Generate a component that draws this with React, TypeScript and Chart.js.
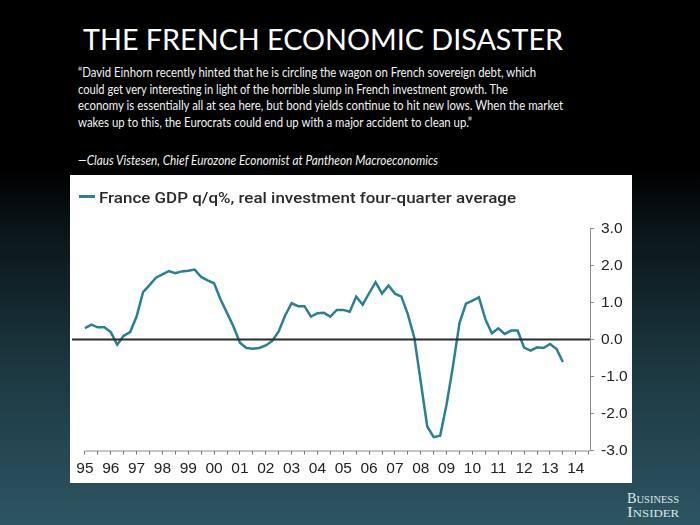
import React, { useEffect, useLayoutEffect, useRef } from 'react';
import { Chart, registerables } from 'chart.js';

Chart.register(...registerables);

// ---------- data ----------
const startYear = 1995;
const gdpValues: number[] = [
  0.31, 0.40, 0.33, 0.33, 0.20, -0.14, 0.10, 0.20,
  0.62, 1.28, 1.47, 1.67, 1.76, 1.85, 1.79, 1.84,
  1.86, 1.89, 1.69, 1.60, 1.52, 1.08, 0.72, 0.35,
  -0.09, -0.23, -0.25, -0.23, -0.16, -0.04, 0.22, 0.65,
  0.98, 0.90, 0.90, 0.62, 0.71, 0.72, 0.62, 0.80,
  0.80, 0.75, 1.16, 0.94, 1.25, 1.55, 1.24, 1.46,
  1.24, 1.16, 0.68, 0.05, -1.15, -2.35, -2.64, -2.60,
  -1.75, -0.70, 0.45, 0.97, 1.05, 1.14, 0.55, 0.17,
  0.30, 0.15, 0.24, 0.24, -0.22, -0.30, -0.21, -0.23,
  -0.12, -0.25, -0.61,
];
const quarterLabels: string[] = gdpValues.map(
  (_, i) => `${startYear + Math.floor(i / 4)}Q${(i % 4) + 1}`
);
const yearLabels: string[] = [
  '95', '96', '97', '98', '99', '00', '01', '02', '03', '04',
  '05', '06', '07', '08', '09', '10', '11', '12', '13', '14',
];
const yTickValues: number[] = [-3, -2, -1, 0, 1, 2, 3];

const titleText = 'THE FRENCH ECONOMIC DISASTER';
const quoteLines: string[] = [
  '\u201CDavid Einhorn recently hinted that he is circling the wagon on French sovereign debt, which',
  'could get very interesting in light of the horrible slump in French investment growth. The',
  'economy is essentially all at sea here, but bond yields continue to hit new lows. When the market',
  'wakes up to this, the Eurocrats could end up with a major accident to clean up.\u201D',
];
const attributionText = '\u2014Claus Vistesen, Chief Eurozone Economist at Pantheon Macroeconomics';
const legendLabel = 'France GDP q/q%, real investment four-quarter average';
const brandLines: string[] = ['Business', 'Insider'];

const LINE_COLOR = '#2a8092';

// ---------- text helper ----------
type FitProps = {
  text: string;
  left: number;
  baseline: number;
  width: number;
  size: number;
  family: string;
  ratio: number;
  color: string;
  italic?: boolean;
  weight?: number;
  smallCaps?: boolean;
};

function FitText(p: FitProps) {
  const ref = useRef<HTMLDivElement>(null);
  useLayoutEffect(() => {
    const measure = () => {
      const el = ref.current;
      if (!el) return;
      el.style.transform = 'none';
      const w = el.getBoundingClientRect().width;
      if (w > 0) el.style.transform = `scaleX(${p.width / w})`;
    };
    measure();
    if ((document as any).fonts && (document as any).fonts.ready) {
      (document as any).fonts.ready.then(measure);
    }
  }, [p.text, p.width]);
  return (
    <div
      ref={ref}
      style={{
        position: 'absolute',
        left: p.left,
        top: p.baseline - p.ratio * p.size,
        fontSize: p.size,
        lineHeight: `${p.size}px`,
        fontFamily: p.family,
        fontStyle: p.italic ? 'italic' : 'normal',
        fontWeight: p.weight ?? 400,
        fontVariant: p.smallCaps ? 'small-caps' : 'normal',
        color: p.color,
        whiteSpace: 'nowrap',
        transformOrigin: 'left top',
      }}
    >
      {p.text}
    </div>
  );
}

// ---------- chart ----------
const zeroLinePlugin = {
  id: 'zeroLine',
  afterDatasetsDraw(chart: any) {
    const { ctx, chartArea, scales } = chart;
    const py = scales.y.getPixelForValue(0);
    ctx.save();
    ctx.strokeStyle = '#2b2b2b';
    ctx.lineWidth = 2;
    ctx.beginPath();
    ctx.moveTo(chartArea.left, py);
    ctx.lineTo(chartArea.right, py);
    ctx.stroke();
    ctx.restore();
  },
  beforeDatasetsDraw(chart: any) {
    const { ctx, chartArea, scales } = chart;
    const x0 = scales.x.getPixelForValue(0);
    ctx.save();
    ctx.strokeStyle = '#8a8a8a';
    ctx.lineWidth = 1;
    ctx.beginPath();
    ctx.moveTo(x0, chartArea.bottom + 0.5);
    ctx.lineTo(chartArea.right, chartArea.bottom + 0.5);
    ctx.stroke();
    ctx.restore();
  },
};

function GdpChart() {
  const canvasRef = useRef<HTMLCanvasElement>(null);
  useEffect(() => {
    if (!canvasRef.current) return;
    const xTicks = Array.from({ length: yearLabels.length * 2 }, (_, k) => k * 2);
    const chart = new Chart(canvasRef.current, {
      type: 'line',
      data: {
        labels: quarterLabels,
        datasets: [
          {
            label: legendLabel,
            data: gdpValues.map((v, i) => ({ x: i, y: v })),
            borderColor: LINE_COLOR,
            backgroundColor: LINE_COLOR,
            borderWidth: 2.5,
            pointRadius: 0,
            tension: 0,
            fill: false,
          },
        ],
      },
      options: {
        responsive: false,
        animation: false,
        layout: { padding: { left: 2, top: 53.5, right: 0, bottom: 0 } },
        plugins: {
          legend: { display: false },
          tooltip: { enabled: false },
        },
        scales: {
          x: {
            type: 'linear',
            min: -2,
            max: 78.2,
            afterBuildTicks: (s: any) => {
              s.ticks = xTicks.map((v) => ({ value: v }));
            },
            afterFit: (s: any) => {
              s.height = 32.5;
            },
            ticks: {
              autoSkip: false,
              maxRotation: 0,
              minRotation: 0,
              padding: 5,
              color: '#222',
              font: { family: 'Liberation Sans', size: 15.5 },
              callback: (v: any) => (Number(v) % 4 === 0 ? yearLabels[Number(v) / 4] : ''),
            },
            grid: { drawOnChartArea: false, drawTicks: true, tickLength: 4, color: '#777' },
            border: { display: false },
          },
          y: {
            position: 'right',
            min: -3,
            max: 3,
            afterBuildTicks: (s: any) => {
              s.ticks = yTickValues.map((v) => ({ value: v }));
            },
            afterFit: (s: any) => {
              s.width = 42;
            },
            ticks: {
              padding: 7,
              color: '#222',
              font: { family: 'Liberation Sans', size: 15.5 },
              callback: (v: any) => Number(v).toFixed(1),
            },
            grid: { drawOnChartArea: false, drawTicks: true, tickLength: 4, color: '#888' },
            border: { display: true, color: '#8a8a8a', width: 1 },
          },
        },
      },
      plugins: [zeroLinePlugin],
    } as any);
    return () => chart.destroy();
  }, []);
  return <canvas ref={canvasRef} width={562} height={308} style={{ display: 'block' }} />;
}

export default function App() {
  return (
    <div
      style={{
        position: 'fixed',
        left: 0,
        top: 0,
        width: 700,
        height: 525,
        overflow: 'hidden',
        background:
          'linear-gradient(to bottom, #000 0%, #000 32%, #0b171b 45%, #1d3a43 72%, #2d5562 100%)',
      }}
    >
      <FitText text={titleText} left={83} baseline={50} width={480} size={29}
        family="Lato" ratio={0.887} color="#ffffff" />
      {quoteLines.map((line, i) => (
        <FitText key={i} text={line} left={78} baseline={77.3 + i * 16.7}
          width={[458, 430, 485, 394][i]} size={14} family="Lato" ratio={0.887} color="#f2f2f2" />
      ))}
      <FitText text={attributionText} left={78} baseline={165} width={360} size={14}
        family="Lato" ratio={0.887} color="#f2f2f2" italic />

      <div style={{ position: 'absolute', left: 70, top: 175, width: 562, height: 308, background: '#fff' }}>
        <GdpChart />
        <div style={{ position: 'absolute', left: 9, top: 20, width: 16, height: 3, background: LINE_COLOR }} />
        <FitText text={legendLabel} left={29} baseline={29.3} width={417} size={15.5}
          family="Roboto" ratio={0.842} color="#2a2a2a" weight={500} />
      </div>

      {brandLines.map((t, i) => (
        <FitText key={t} text={t} left={627} baseline={503 + i * 14} width={52} size={15}
          family="Liberation Serif" ratio={0.8} color="#dfe6e8" smallCaps />
      ))}
    </div>
  );
}
